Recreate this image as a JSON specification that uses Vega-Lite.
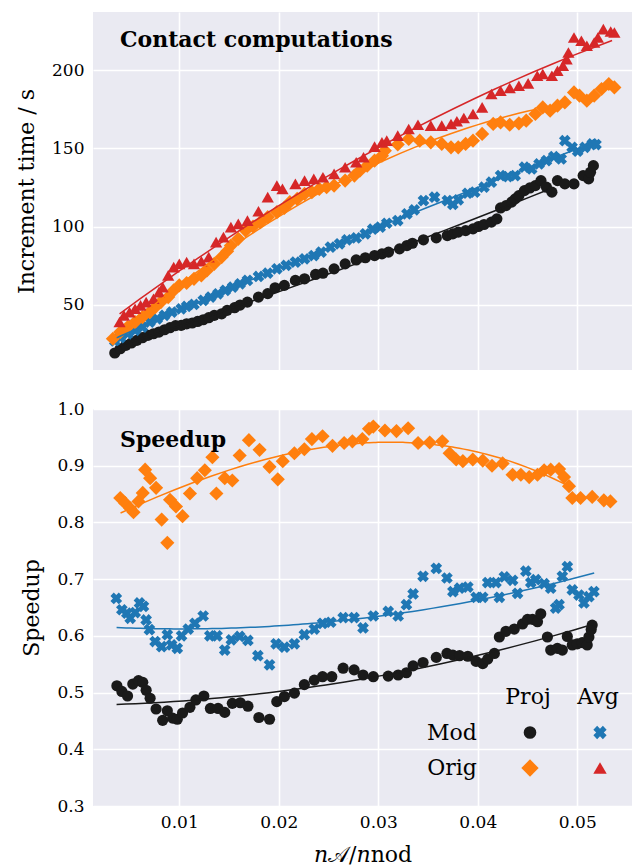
{
  "$schema": "https://vega.github.io/schema/vega-lite/v6.json",
  "background": "white",
  "padding": {"left": 15, "top": 12, "right": 3, "bottom": 0},
  "autosize": {"type": "pad"},
  "config": {
    "font": "DejaVu Serif",
    "view": {"fill": "#EAEAF2", "stroke": null},
    "axis": {"domain": false, "ticks": false, "gridColor": "white", "gridWidth": 1.6, "gridOpacity": 1, "labelFontSize": 17, "labelColor": "black", "titleFontSize": 22, "titleFontWeight": "normal", "titleColor": "black", "labelPadding": 9, "titlePadding": 13, "labelOverlap": false},
    "title": {"fontSize": 22, "fontWeight": "bold", "color": "black"}
  },
  "datasets": {
    "time": [
      {"s":"MP","x":0.00352,"y":19.0},{"s":"MP","x":0.00407,"y":21.7},{"s":"MP","x":0.00463,"y":23.9},{"s":"MP","x":0.00519,"y":25.4},{"s":"MP","x":0.00574,"y":27.1},{"s":"MP","x":0.0063,"y":28.8},{"s":"MP","x":0.00685,"y":30.3},{"s":"MP","x":0.00741,"y":31.3},{"s":"MP","x":0.00796,"y":32.4},{"s":"MP","x":0.00852,"y":33.9},{"s":"MP","x":0.00907,"y":35.2},{"s":"MP","x":0.00963,"y":36.5},{"s":"MP","x":0.01019,"y":36.7},{"s":"MP","x":0.01074,"y":37.7},{"s":"MP","x":0.0113,"y":38.2},{"s":"MP","x":0.01185,"y":39.2},{"s":"MP","x":0.01241,"y":40.3},{"s":"MP","x":0.01296,"y":41.6},{"s":"MP","x":0.01352,"y":43.1},{"s":"MP","x":0.01426,"y":44.1},{"s":"MP","x":0.01481,"y":46.3},{"s":"MP","x":0.01556,"y":48.0},{"s":"MP","x":0.01611,"y":49.7},{"s":"MP","x":0.01685,"y":51.6},{"s":"MP","x":0.01796,"y":54.8},{"s":"MP","x":0.01889,"y":57.0},{"s":"MP","x":0.01963,"y":60.8},{"s":"MP","x":0.02056,"y":62.3},{"s":"MP","x":0.02167,"y":65.5},{"s":"MP","x":0.02259,"y":66.5},{"s":"MP","x":0.0237,"y":69.3},{"s":"MP","x":0.02444,"y":70.1},{"s":"MP","x":0.02556,"y":72.9},{"s":"MP","x":0.02667,"y":76.1},{"s":"MP","x":0.02778,"y":78.6},{"s":"MP","x":0.0287,"y":80.0},{"s":"MP","x":0.02963,"y":81.4},{"s":"MP","x":0.03037,"y":82.5},{"s":"MP","x":0.03103,"y":83.6},{"s":"MP","x":0.03214,"y":85.7},{"s":"MP","x":0.03288,"y":87.8},{"s":"MP","x":0.03343,"y":89.3},{"s":"MP","x":0.03454,"y":91.5},{"s":"MP","x":0.03583,"y":92.7},{"s":"MP","x":0.03694,"y":94.2},{"s":"MP","x":0.03749,"y":95.3},{"s":"MP","x":0.03804,"y":96.4},{"s":"MP","x":0.03878,"y":97.4},{"s":"MP","x":0.03952,"y":98.5},{"s":"MP","x":0.04007,"y":100.0},{"s":"MP","x":0.04063,"y":101.3},{"s":"MP","x":0.04137,"y":102.8},{"s":"MP","x":0.04192,"y":104.9},{"s":"MP","x":0.04229,"y":111.9},{"s":"MP","x":0.04284,"y":113.4},{"s":"MP","x":0.0434,"y":115.6},{"s":"MP","x":0.04376,"y":117.7},{"s":"MP","x":0.04413,"y":119.8},{"s":"MP","x":0.04469,"y":123.0},{"s":"MP","x":0.04524,"y":124.7},{"s":"MP","x":0.04579,"y":126.2},{"s":"MP","x":0.04635,"y":129.4},{"s":"MP","x":0.0469,"y":125.2},{"s":"MP","x":0.04745,"y":122.0},{"s":"MP","x":0.04801,"y":129.4},{"s":"MP","x":0.04875,"y":127.3},{"s":"MP","x":0.04967,"y":127.3},{"s":"MP","x":0.05059,"y":132.6},{"s":"MP","x":0.05114,"y":130.5},{"s":"MP","x":0.05133,"y":134.8},{"s":"MP","x":0.05162,"y":139.0},
      {"s":"MA","x":0.00352,"y":26.7},{"s":"MA","x":0.00407,"y":28.8},{"s":"MA","x":0.00481,"y":31.3},{"s":"MA","x":0.00556,"y":33.5},{"s":"MA","x":0.0063,"y":35.6},{"s":"MA","x":0.00704,"y":38.8},{"s":"MA","x":0.00778,"y":40.9},{"s":"MA","x":0.00852,"y":43.1},{"s":"MA","x":0.00926,"y":45.2},{"s":"MA","x":0.01019,"y":47.3},{"s":"MA","x":0.01074,"y":48.8},{"s":"MA","x":0.01148,"y":50.1},{"s":"MA","x":0.01241,"y":52.7},{"s":"MA","x":0.01315,"y":54.8},{"s":"MA","x":0.01389,"y":56.9},{"s":"MA","x":0.01463,"y":59.1},{"s":"MA","x":0.01537,"y":61.2},{"s":"MA","x":0.01611,"y":63.3},{"s":"MA","x":0.01685,"y":65.5},{"s":"MA","x":0.01796,"y":68.0},{"s":"MA","x":0.01889,"y":70.1},{"s":"MA","x":0.01981,"y":72.9},{"s":"MA","x":0.02074,"y":75.1},{"s":"MA","x":0.02167,"y":77.2},{"s":"MA","x":0.02259,"y":79.3},{"s":"MA","x":0.02352,"y":81.4},{"s":"MA","x":0.02426,"y":83.6},{"s":"MA","x":0.02519,"y":86.8},{"s":"MA","x":0.02611,"y":88.9},{"s":"MA","x":0.02685,"y":91.5},{"s":"MA","x":0.02778,"y":92.7},{"s":"MA","x":0.0287,"y":95.3},{"s":"MA","x":0.02944,"y":98.3},{"s":"MA","x":0.03019,"y":99.6},{"s":"MA","x":0.03085,"y":102.1},{"s":"MA","x":0.03196,"y":103.8},{"s":"MA","x":0.03288,"y":108.1},{"s":"MA","x":0.03362,"y":110.7},{"s":"MA","x":0.03454,"y":116.6},{"s":"MA","x":0.03565,"y":118.8},{"s":"MA","x":0.03694,"y":116.6},{"s":"MA","x":0.03749,"y":114.1},{"s":"MA","x":0.03804,"y":117.1},{"s":"MA","x":0.03897,"y":121.3},{"s":"MA","x":0.0397,"y":122.0},{"s":"MA","x":0.04063,"y":125.2},{"s":"MA","x":0.04137,"y":128.4},{"s":"MA","x":0.04229,"y":132.6},{"s":"MA","x":0.04303,"y":132.0},{"s":"MA","x":0.04376,"y":132.6},{"s":"MA","x":0.04469,"y":138.0},{"s":"MA","x":0.04542,"y":136.9},{"s":"MA","x":0.04616,"y":140.1},{"s":"MA","x":0.0469,"y":142.2},{"s":"MA","x":0.04764,"y":144.8},{"s":"MA","x":0.04838,"y":143.3},{"s":"MA","x":0.04875,"y":155.0},{"s":"MA","x":0.04948,"y":150.7},{"s":"MA","x":0.05004,"y":148.2},{"s":"MA","x":0.05077,"y":150.7},{"s":"MA","x":0.05151,"y":152.9},{"s":"MA","x":0.05188,"y":152.5},
      {"s":"OP","x":0.00333,"y":28.1},{"s":"OP","x":0.00407,"y":32.4},{"s":"OP","x":0.00481,"y":35.6},{"s":"OP","x":0.00556,"y":38.8},{"s":"OP","x":0.0063,"y":42.0},{"s":"OP","x":0.00704,"y":45.2},{"s":"OP","x":0.00759,"y":48.4},{"s":"OP","x":0.00815,"y":51.6},{"s":"OP","x":0.00889,"y":54.8},{"s":"OP","x":0.00944,"y":59.1},{"s":"OP","x":0.01,"y":62.3},{"s":"OP","x":0.01074,"y":63.8},{"s":"OP","x":0.01148,"y":66.5},{"s":"OP","x":0.01222,"y":68.7},{"s":"OP","x":0.01278,"y":71.9},{"s":"OP","x":0.01352,"y":76.1},{"s":"OP","x":0.01426,"y":80.4},{"s":"OP","x":0.01481,"y":84.2},{"s":"OP","x":0.01519,"y":87.8},{"s":"OP","x":0.01593,"y":92.1},{"s":"OP","x":0.01667,"y":97.4},{"s":"OP","x":0.01741,"y":100.0},{"s":"OP","x":0.01815,"y":102.8},{"s":"OP","x":0.01889,"y":106.0},{"s":"OP","x":0.01981,"y":109.2},{"s":"OP","x":0.02056,"y":111.9},{"s":"OP","x":0.02111,"y":115.6},{"s":"OP","x":0.02185,"y":117.7},{"s":"OP","x":0.02259,"y":120.9},{"s":"OP","x":0.02333,"y":122.0},{"s":"OP","x":0.02407,"y":124.1},{"s":"OP","x":0.02481,"y":125.2},{"s":"OP","x":0.02556,"y":126.2},{"s":"OP","x":0.02667,"y":129.4},{"s":"OP","x":0.0276,"y":132.6},{"s":"OP","x":0.02815,"y":135.8},{"s":"OP","x":0.02889,"y":139.0},{"s":"OP","x":0.02963,"y":142.2},{"s":"OP","x":0.03037,"y":145.4},{"s":"OP","x":0.03066,"y":148.6},{"s":"OP","x":0.03196,"y":152.5},{"s":"OP","x":0.03306,"y":156.1},{"s":"OP","x":0.03417,"y":155.0},{"s":"OP","x":0.03528,"y":153.9},{"s":"OP","x":0.03638,"y":152.9},{"s":"OP","x":0.03731,"y":150.7},{"s":"OP","x":0.03804,"y":150.7},{"s":"OP","x":0.03878,"y":152.9},{"s":"OP","x":0.03952,"y":155.0},{"s":"OP","x":0.04044,"y":159.3},{"s":"OP","x":0.04155,"y":165.7},{"s":"OP","x":0.04229,"y":166.7},{"s":"OP","x":0.04321,"y":165.2},{"s":"OP","x":0.04413,"y":166.1},{"s":"OP","x":0.04487,"y":167.8},{"s":"OP","x":0.04579,"y":172.1},{"s":"OP","x":0.04653,"y":176.3},{"s":"OP","x":0.04727,"y":174.2},{"s":"OP","x":0.04801,"y":177.4},{"s":"OP","x":0.04875,"y":179.5},{"s":"OP","x":0.04967,"y":185.9},{"s":"OP","x":0.05022,"y":183.8},{"s":"OP","x":0.05096,"y":180.6},{"s":"OP","x":0.0517,"y":183.8},{"s":"OP","x":0.05244,"y":188.1},{"s":"OP","x":0.05317,"y":191.3},{"s":"OP","x":0.05373,"y":189.1},
      {"s":"OA","x":0.004,"y":38.8},{"s":"OA","x":0.00444,"y":43.1},{"s":"OA","x":0.005,"y":45.2},{"s":"OA","x":0.00556,"y":47.3},{"s":"OA","x":0.00611,"y":49.5},{"s":"OA","x":0.00667,"y":51.6},{"s":"OA","x":0.00741,"y":53.7},{"s":"OA","x":0.00796,"y":58.0},{"s":"OA","x":0.00833,"y":61.2},{"s":"OA","x":0.00889,"y":68.7},{"s":"OA","x":0.00944,"y":74.0},{"s":"OA","x":0.01,"y":76.1},{"s":"OA","x":0.01074,"y":77.2},{"s":"OA","x":0.01148,"y":76.1},{"s":"OA","x":0.01222,"y":77.8},{"s":"OA","x":0.01296,"y":80.4},{"s":"OA","x":0.0137,"y":90.0},{"s":"OA","x":0.01444,"y":93.2},{"s":"OA","x":0.01519,"y":99.6},{"s":"OA","x":0.01593,"y":101.7},{"s":"OA","x":0.01685,"y":103.8},{"s":"OA","x":0.01796,"y":109.8},{"s":"OA","x":0.01889,"y":118.8},{"s":"OA","x":0.01981,"y":126.2},{"s":"OA","x":0.02037,"y":124.1},{"s":"OA","x":0.02167,"y":127.3},{"s":"OA","x":0.02259,"y":129.4},{"s":"OA","x":0.02352,"y":130.5},{"s":"OA","x":0.02444,"y":131.6},{"s":"OA","x":0.02556,"y":133.7},{"s":"OA","x":0.02667,"y":138.0},{"s":"OA","x":0.02778,"y":141.2},{"s":"OA","x":0.02852,"y":144.4},{"s":"OA","x":0.02963,"y":151.2},{"s":"OA","x":0.03037,"y":153.9},{"s":"OA","x":0.03085,"y":155.0},{"s":"OA","x":0.03196,"y":158.2},{"s":"OA","x":0.03306,"y":162.5},{"s":"OA","x":0.03399,"y":165.2},{"s":"OA","x":0.03528,"y":164.6},{"s":"OA","x":0.03638,"y":164.6},{"s":"OA","x":0.03731,"y":165.7},{"s":"OA","x":0.0379,"y":167.4},{"s":"OA","x":0.0386,"y":169.5},{"s":"OA","x":0.03952,"y":172.1},{"s":"OA","x":0.04044,"y":176.3},{"s":"OA","x":0.04137,"y":184.9},{"s":"OA","x":0.04229,"y":187.0},{"s":"OA","x":0.04321,"y":188.7},{"s":"OA","x":0.04413,"y":190.2},{"s":"OA","x":0.04506,"y":191.7},{"s":"OA","x":0.04598,"y":196.6},{"s":"OA","x":0.04653,"y":197.7},{"s":"OA","x":0.04745,"y":196.6},{"s":"OA","x":0.04801,"y":199.8},{"s":"OA","x":0.04856,"y":203.0},{"s":"OA","x":0.04893,"y":207.2},{"s":"OA","x":0.04911,"y":211.5},{"s":"OA","x":0.04967,"y":221.1},{"s":"OA","x":0.05041,"y":219.0},{"s":"OA","x":0.05096,"y":215.8},{"s":"OA","x":0.0517,"y":217.9},{"s":"OA","x":0.05207,"y":221.1},{"s":"OA","x":0.05262,"y":226.4},{"s":"OA","x":0.05336,"y":224.9},{"s":"OA","x":0.05373,"y":224.3}
    ],
    "speedup": [
      {"s":"OP","x":0.00407,"y":0.843},{"s":"OP","x":0.00457,"y":0.834},{"s":"OP","x":0.00507,"y":0.825},{"s":"OP","x":0.0054,"y":0.818},{"s":"OP","x":0.0059,"y":0.837},{"s":"OP","x":0.00633,"y":0.852},{"s":"OP","x":0.00657,"y":0.893},{"s":"OP","x":0.00707,"y":0.878},{"s":"OP","x":0.00767,"y":0.861},{"s":"OP","x":0.00823,"y":0.805},{"s":"OP","x":0.0088,"y":0.764},{"s":"OP","x":0.00907,"y":0.840},{"s":"OP","x":0.00967,"y":0.828},{"s":"OP","x":0.01033,"y":0.811},{"s":"OP","x":0.01107,"y":0.851},{"s":"OP","x":0.0118,"y":0.878},{"s":"OP","x":0.01257,"y":0.892},{"s":"OP","x":0.01333,"y":0.915},{"s":"OP","x":0.01373,"y":0.851},{"s":"OP","x":0.01457,"y":0.878},{"s":"OP","x":0.01533,"y":0.874},{"s":"OP","x":0.01607,"y":0.918},{"s":"OP","x":0.017,"y":0.945},{"s":"OP","x":0.01807,"y":0.928},{"s":"OP","x":0.01907,"y":0.898},{"s":"OP","x":0.0199,"y":0.876},{"s":"OP","x":0.0204,"y":0.908},{"s":"OP","x":0.02157,"y":0.922},{"s":"OP","x":0.02257,"y":0.929},{"s":"OP","x":0.02333,"y":0.947},{"s":"OP","x":0.0244,"y":0.952},{"s":"OP","x":0.0254,"y":0.935},{"s":"OP","x":0.02657,"y":0.940},{"s":"OP","x":0.0274,"y":0.943},{"s":"OP","x":0.0284,"y":0.947},{"s":"OP","x":0.02907,"y":0.965},{"s":"OP","x":0.0295,"y":0.969},{"s":"OP","x":0.03067,"y":0.962},{"s":"OP","x":0.03183,"y":0.961},{"s":"OP","x":0.033,"y":0.966},{"s":"OP","x":0.034,"y":0.940},{"s":"OP","x":0.03517,"y":0.941},{"s":"OP","x":0.03643,"y":0.943},{"s":"OP","x":0.03717,"y":0.922},{"s":"OP","x":0.03783,"y":0.911},{"s":"OP","x":0.0385,"y":0.908},{"s":"OP","x":0.0395,"y":0.911},{"s":"OP","x":0.0405,"y":0.909},{"s":"OP","x":0.04143,"y":0.900},{"s":"OP","x":0.0425,"y":0.904},{"s":"OP","x":0.0435,"y":0.884},{"s":"OP","x":0.04433,"y":0.884},{"s":"OP","x":0.04517,"y":0.880},{"s":"OP","x":0.046,"y":0.884},{"s":"OP","x":0.04667,"y":0.892},{"s":"OP","x":0.04733,"y":0.893},{"s":"OP","x":0.04817,"y":0.894},{"s":"OP","x":0.04867,"y":0.880},{"s":"OP","x":0.04917,"y":0.864},{"s":"OP","x":0.0495,"y":0.843},{"s":"OP","x":0.05033,"y":0.843},{"s":"OP","x":0.0515,"y":0.845},{"s":"OP","x":0.05267,"y":0.839},{"s":"OP","x":0.05333,"y":0.837},
      {"s":"MA","x":0.00367,"y":0.666},{"s":"MA","x":0.00423,"y":0.646},{"s":"MA","x":0.00473,"y":0.640},{"s":"MA","x":0.00507,"y":0.631},{"s":"MA","x":0.00557,"y":0.641},{"s":"MA","x":0.006,"y":0.658},{"s":"MA","x":0.0064,"y":0.652},{"s":"MA","x":0.00667,"y":0.628},{"s":"MA","x":0.007,"y":0.611},{"s":"MA","x":0.00757,"y":0.590},{"s":"MA","x":0.00823,"y":0.581},{"s":"MA","x":0.0088,"y":0.602},{"s":"MA","x":0.00923,"y":0.584},{"s":"MA","x":0.0098,"y":0.578},{"s":"MA","x":0.01023,"y":0.600},{"s":"MA","x":0.0109,"y":0.612},{"s":"MA","x":0.01157,"y":0.622},{"s":"MA","x":0.0124,"y":0.635},{"s":"MA","x":0.01307,"y":0.600},{"s":"MA","x":0.0138,"y":0.600},{"s":"MA","x":0.01457,"y":0.575},{"s":"MA","x":0.01523,"y":0.593},{"s":"MA","x":0.01607,"y":0.599},{"s":"MA","x":0.0169,"y":0.592},{"s":"MA","x":0.0179,"y":0.565},{"s":"MA","x":0.01907,"y":0.549},{"s":"MA","x":0.01973,"y":0.586},{"s":"MA","x":0.02057,"y":0.580},{"s":"MA","x":0.02157,"y":0.586},{"s":"MA","x":0.02257,"y":0.602},{"s":"MA","x":0.02357,"y":0.612},{"s":"MA","x":0.0244,"y":0.622},{"s":"MA","x":0.02523,"y":0.624},{"s":"MA","x":0.02647,"y":0.632},{"s":"MA","x":0.02757,"y":0.632},{"s":"MA","x":0.02847,"y":0.614},{"s":"MA","x":0.0295,"y":0.635},{"s":"MA","x":0.031,"y":0.643},{"s":"MA","x":0.032,"y":0.635},{"s":"MA","x":0.03283,"y":0.655},{"s":"MA","x":0.0335,"y":0.674},{"s":"MA","x":0.0345,"y":0.705},{"s":"MA","x":0.03583,"y":0.719},{"s":"MA","x":0.0369,"y":0.702},{"s":"MA","x":0.0375,"y":0.678},{"s":"MA","x":0.03817,"y":0.684},{"s":"MA","x":0.039,"y":0.686},{"s":"MA","x":0.03983,"y":0.668},{"s":"MA","x":0.0405,"y":0.668},{"s":"MA","x":0.041,"y":0.694},{"s":"MA","x":0.04183,"y":0.694},{"s":"MA","x":0.04217,"y":0.668},{"s":"MA","x":0.04267,"y":0.704},{"s":"MA","x":0.0435,"y":0.698},{"s":"MA","x":0.044,"y":0.675},{"s":"MA","x":0.04483,"y":0.714},{"s":"MA","x":0.04533,"y":0.694},{"s":"MA","x":0.04583,"y":0.699},{"s":"MA","x":0.04667,"y":0.692},{"s":"MA","x":0.04733,"y":0.684},{"s":"MA","x":0.04783,"y":0.649},{"s":"MA","x":0.04817,"y":0.655},{"s":"MA","x":0.0485,"y":0.705},{"s":"MA","x":0.049,"y":0.722},{"s":"MA","x":0.0495,"y":0.681},{"s":"MA","x":0.05017,"y":0.672},{"s":"MA","x":0.05067,"y":0.658},{"s":"MA","x":0.05117,"y":0.669},{"s":"MA","x":0.05167,"y":0.678},
      {"s":"MP","x":0.00373,"y":0.512},{"s":"MP","x":0.00423,"y":0.502},{"s":"MP","x":0.0048,"y":0.494},{"s":"MP","x":0.00533,"y":0.515},{"s":"MP","x":0.0059,"y":0.521},{"s":"MP","x":0.00633,"y":0.518},{"s":"MP","x":0.00667,"y":0.504},{"s":"MP","x":0.00707,"y":0.490},{"s":"MP","x":0.00767,"y":0.471},{"s":"MP","x":0.00833,"y":0.451},{"s":"MP","x":0.0088,"y":0.468},{"s":"MP","x":0.00933,"y":0.455},{"s":"MP","x":0.0098,"y":0.453},{"s":"MP","x":0.01033,"y":0.464},{"s":"MP","x":0.01107,"y":0.474},{"s":"MP","x":0.01167,"y":0.487},{"s":"MP","x":0.01247,"y":0.494},{"s":"MP","x":0.01313,"y":0.472},{"s":"MP","x":0.0139,"y":0.472},{"s":"MP","x":0.01457,"y":0.465},{"s":"MP","x":0.01533,"y":0.481},{"s":"MP","x":0.01613,"y":0.482},{"s":"MP","x":0.0169,"y":0.476},{"s":"MP","x":0.018,"y":0.456},{"s":"MP","x":0.01907,"y":0.453},{"s":"MP","x":0.0198,"y":0.484},{"s":"MP","x":0.02057,"y":0.493},{"s":"MP","x":0.02157,"y":0.499},{"s":"MP","x":0.02257,"y":0.514},{"s":"MP","x":0.02357,"y":0.522},{"s":"MP","x":0.0244,"y":0.528},{"s":"MP","x":0.02533,"y":0.528},{"s":"MP","x":0.02647,"y":0.543},{"s":"MP","x":0.02757,"y":0.540},{"s":"MP","x":0.02847,"y":0.531},{"s":"MP","x":0.0295,"y":0.528},{"s":"MP","x":0.031,"y":0.529},{"s":"MP","x":0.032,"y":0.531},{"s":"MP","x":0.03283,"y":0.535},{"s":"MP","x":0.0335,"y":0.547},{"s":"MP","x":0.0345,"y":0.553},{"s":"MP","x":0.03583,"y":0.562},{"s":"MP","x":0.0369,"y":0.569},{"s":"MP","x":0.0375,"y":0.566},{"s":"MP","x":0.03817,"y":0.565},{"s":"MP","x":0.039,"y":0.564},{"s":"MP","x":0.03983,"y":0.555},{"s":"MP","x":0.0405,"y":0.551},{"s":"MP","x":0.041,"y":0.559},{"s":"MP","x":0.04167,"y":0.569},{"s":"MP","x":0.04217,"y":0.598},{"s":"MP","x":0.04283,"y":0.608},{"s":"MP","x":0.04367,"y":0.612},{"s":"MP","x":0.0445,"y":0.621},{"s":"MP","x":0.045,"y":0.629},{"s":"MP","x":0.0455,"y":0.629},{"s":"MP","x":0.046,"y":0.625},{"s":"MP","x":0.04633,"y":0.639},{"s":"MP","x":0.047,"y":0.598},{"s":"MP","x":0.04733,"y":0.575},{"s":"MP","x":0.048,"y":0.578},{"s":"MP","x":0.0485,"y":0.575},{"s":"MP","x":0.049,"y":0.599},{"s":"MP","x":0.0495,"y":0.584},{"s":"MP","x":0.05,"y":0.586},{"s":"MP","x":0.0505,"y":0.588},{"s":"MP","x":0.051,"y":0.584},{"s":"MP","x":0.05117,"y":0.598},{"s":"MP","x":0.0514,"y":0.611},{"s":"MP","x":0.0515,"y":0.619}
    ],
    "legend": [
      {"col":"Proj","row":"hdr","label":"Proj"},
      {"col":"Avg","row":"hdr","label":"Avg"},
      {"col":"lab","row":"Mod","label":"Mod"},
      {"col":"lab","row":"Orig","label":"Orig"},
      {"col":"Proj","row":"Mod","s":"MP"},
      {"col":"Avg","row":"Mod","s":"MA"},
      {"col":"Proj","row":"Orig","s":"OP"},
      {"col":"Avg","row":"Orig","s":"OA"}
    ]
  },
  "spacing": 30,
  "resolve": {"scale": {"x": "independent", "y": "independent"}},
  "vconcat": [
    {
      "width": 539,
      "height": 358,
      "title": {"text": "Contact computations", "anchor": "start", "frame": "group", "orient": "top", "offset": -57, "dx": 27, "baseline": "alphabetic"},
      "data": {"name": "time"},
      "encoding": {
        "x": {"field": "x", "type": "quantitative", "scale": {"domain": [0.00133, 0.0555], "nice": false, "zero": false},
              "axis": {"values": [0.01, 0.02, 0.03, 0.04, 0.05], "labels": false, "title": null, "grid": true}},
        "y": {"field": "y", "type": "quantitative", "scale": {"domain": [8.1, 237.4], "nice": false, "zero": false},
              "axis": {"values": [50, 100, 150, 200], "title": "Increment time / s", "grid": true}}
      },
      "layer": [
        {"transform": [{"filter": "datum.s == 'MP'"}], "mark": {"type": "point", "shape": "circle", "filled": true, "color": "#1a1a1a", "opacity": 1, "size": 125}},
        {"transform": [{"filter": "datum.s == 'MA'"}], "mark": {"type": "point", "shape": "cross", "angle": 45, "filled": true, "color": "#1f77b4", "opacity": 1, "size": 140}},
        {"transform": [{"filter": "datum.s == 'OP'"}], "mark": {"type": "point", "shape": "diamond", "filled": true, "color": "#ff7f0e", "opacity": 1, "size": 200}},
        {"transform": [{"filter": "datum.s == 'OA'"}], "mark": {"type": "point", "shape": "triangle-up", "filled": true, "color": "#d62728", "opacity": 1, "size": 150}},
        {"transform": [{"filter": "datum.s == 'MP'"}, {"regression": "y", "on": "x", "method": "poly", "order": 2, "extent": [0.0037, 0.047]}], "mark": {"type": "line", "color": "#1a1a1a", "strokeWidth": 1.5}},
        {"transform": [{"filter": "datum.s == 'MA'"}, {"regression": "y", "on": "x", "method": "poly", "order": 2, "extent": [0.0037, 0.0497]}], "mark": {"type": "line", "color": "#1f77b4", "strokeWidth": 1.5}},
        {"transform": [{"filter": "datum.s == 'OP'"}, {"regression": "y", "on": "x", "method": "poly", "order": 2, "extent": [0.0035, 0.0458]}], "mark": {"type": "line", "color": "#ff7f0e", "strokeWidth": 1.5}},
        {"transform": [{"filter": "datum.s == 'OA'"}, {"regression": "y", "on": "x", "method": "poly", "order": 2, "extent": [0.004, 0.0535]}], "mark": {"type": "line", "color": "#d62728", "strokeWidth": 1.5}}
      ]
    },
    {
      "width": 539,
      "height": 397,
      "title": {"text": "Speedup", "anchor": "start", "frame": "group", "orient": "top", "offset": -69, "dx": 27, "baseline": "alphabetic"},
      "resolve": {"scale": {"x": "independent", "y": "independent"}},
      "layer": [
        {
          "data": {"name": "speedup"},
          "encoding": {
            "x": {"field": "x", "type": "quantitative", "scale": {"domain": [0.00133, 0.0555], "nice": false, "zero": false},
                  "axis": {"values": [0.01, 0.02, 0.03, 0.04, 0.05], "format": ".2f", "title": "𝑛𝒜/𝑛nod", "labelPadding": 8, "titlePadding": 14, "grid": true}},
            "y": {"field": "y", "type": "quantitative", "scale": {"domain": [0.3, 1.0], "nice": false, "zero": false},
                  "axis": {"values": [0.3, 0.4, 0.5, 0.6, 0.7, 0.8, 0.9, 1.0], "format": ".1f", "title": "Speedup", "grid": true}}
          },
          "layer": [
            {"transform": [{"filter": "datum.s == 'MP'"}], "mark": {"type": "point", "shape": "circle", "filled": true, "color": "#1a1a1a", "opacity": 1, "size": 125}},
            {"transform": [{"filter": "datum.s == 'MA'"}], "mark": {"type": "point", "shape": "cross", "angle": 45, "filled": true, "color": "#1f77b4", "opacity": 1, "size": 140}},
            {"transform": [{"filter": "datum.s == 'OP'"}], "mark": {"type": "point", "shape": "diamond", "filled": true, "color": "#ff7f0e", "opacity": 1, "size": 200}},
            {"transform": [{"filter": "datum.s == 'MP'"}, {"regression": "y", "on": "x", "method": "poly", "order": 2, "extent": [0.0037, 0.0515]}], "mark": {"type": "line", "color": "#1a1a1a", "strokeWidth": 1.5}},
            {"transform": [{"filter": "datum.s == 'MA'"}, {"regression": "y", "on": "x", "method": "poly", "order": 2, "extent": [0.0037, 0.0517]}], "mark": {"type": "line", "color": "#1f77b4", "strokeWidth": 1.5}},
            {"transform": [{"filter": "datum.s == 'OP'"}, {"regression": "y", "on": "x", "method": "poly", "order": 3, "extent": [0.0041, 0.0495]}], "mark": {"type": "line", "color": "#ff7f0e", "strokeWidth": 1.5}}
          ]
        },
        {
          "data": {"name": "legend"},
          "encoding": {
            "x": {"field": "col", "type": "nominal", "scale": {"type": "point", "domain": ["lab", "Proj", "Avg"], "range": [367, 507], "padding": 0}, "axis": null},
            "y": {"field": "row", "type": "nominal", "scale": {"type": "point", "domain": ["hdr", "Mod", "Orig"], "range": [288, 359], "padding": 0}, "axis": null}
          },
          "layer": [
            {"transform": [{"filter": "datum.row == 'hdr'"}], "mark": {"type": "text", "fontSize": 22, "align": "center", "baseline": "middle", "dx": -2, "color": "black"}, "encoding": {"text": {"field": "label"}}},
            {"transform": [{"filter": "datum.col == 'lab'"}], "mark": {"type": "text", "fontSize": 22, "align": "center", "baseline": "middle", "dx": -8, "color": "black"}, "encoding": {"text": {"field": "label"}}},
            {"transform": [{"filter": "datum.s == 'MP'"}], "mark": {"type": "point", "shape": "circle", "filled": true, "color": "#1a1a1a", "opacity": 1, "size": 160}},
            {"transform": [{"filter": "datum.s == 'MA'"}], "mark": {"type": "point", "shape": "cross", "angle": 45, "filled": true, "color": "#1f77b4", "opacity": 1, "size": 180}},
            {"transform": [{"filter": "datum.s == 'OP'"}], "mark": {"type": "point", "shape": "diamond", "filled": true, "color": "#ff7f0e", "opacity": 1, "size": 300}},
            {"transform": [{"filter": "datum.s == 'OA'"}], "mark": {"type": "point", "shape": "triangle-up", "filled": true, "color": "#d62728", "opacity": 1, "size": 180}}
          ]
        }
      ]
    }
  ]
}
